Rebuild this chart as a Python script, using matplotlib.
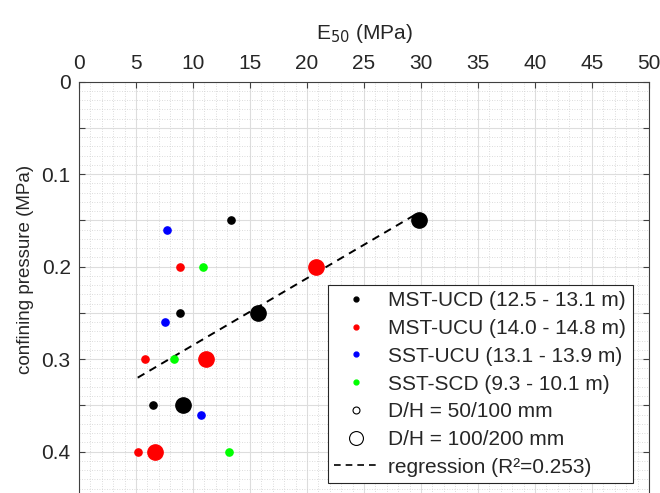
import numpy as np
import matplotlib.pyplot as plt
from matplotlib.lines import Line2D
from matplotlib.ticker import MultipleLocator

plt.rcParams['font.family'] = ['Liberation Sans', 'DejaVu Sans']

# E50 (MPa) vs confining pressure (MPa), small samples (D/H = 50/100 mm)
series_names = ["MST-UCD (12.5 - 13.1 m)", "MST-UCU (14.0 - 14.8 m)",
                "SST-UCU (13.1 - 13.9 m)", "SST-SCD (9.3 - 10.1 m)"]
series_colors = ['black', 'red', 'blue', '#00ff00']

small_e50 = [[13.3, 8.9, 6.45], [8.9, 5.8, 5.15], [7.7, 7.5, 10.7], [10.85, 8.3, 13.15]]
small_p = [[0.15, 0.25, 0.35], [0.20, 0.30, 0.40], [0.16, 0.26, 0.36], [0.20, 0.30, 0.40]]

# large samples (D/H = 100/200 mm)
large_e50 = [[29.85, 15.7, 9.1], [20.75, 11.15, 6.7], [], []]
large_p = [[0.15, 0.25, 0.35], [0.20, 0.30, 0.40], [], []]

# regression line end points
reg_e50 = [5.15, 29.6]
reg_p = [0.32, 0.143]

ytick_vals = np.arange(0, 0.46, 0.05)
ytick_labels = ['0', '', '0.1', '', '0.2', '', '0.3', '', '0.4', '']

txt = '#262626'
fs = 15
fig = plt.figure(figsize=(6.6, 4.93), dpi=100)
ax = fig.add_axes([79/660, 1 - 81.7/493 - 0.938, 570/660, 0.938])

ax.plot(reg_e50, reg_p, '--', color='black', lw=1.4, dashes=(4, 3), zorder=3)
for i in range(len(series_names)):
    ax.plot(small_e50[i], small_p[i], 'o', color=series_colors[i], markersize=5.2,
            linestyle='None', zorder=4)
    if len(large_e50[i]) > 0:
        ax.plot(large_e50[i], large_p[i], 'o', color=series_colors[i], markersize=11,
                linestyle='None', zorder=4)

ax.set_xlim(0, 50)
ax.set_ylim(0.5, 0)
ax.xaxis.tick_top()
ax.xaxis.set_label_position('top')
ax.xaxis.set_major_locator(MultipleLocator(5))
ax.xaxis.set_minor_locator(MultipleLocator(1))
ax.yaxis.set_minor_locator(MultipleLocator(0.01))
ax.set_yticks(ytick_vals)
ax.set_yticklabels(ytick_labels)

ax.tick_params(which='major', direction='in', length=4, width=0.8, color='#404040',
               labelsize=fs, labelcolor=txt, top=True, bottom=True, left=True, right=True,
               pad=6)
ax.tick_params(which='minor', length=0)
ax.grid(which='major', color='#dddddd', lw=0.8)
ax.grid(which='minor', color='#d0d0d0', lw=0.6, linestyle=(0, (1, 2)))
ax.set_axisbelow(True)
for s in ax.spines.values():
    s.set_color('#404040')
    s.set_linewidth(0.8)

ax.set_xlabel('E$_{50}$ (MPa)', fontsize=fs, color=txt, labelpad=11)
ax.set_ylabel('confining pressure (MPa)', fontsize=13.5, color=txt)
ax.yaxis.set_label_coords(-0.079, 0.593)

handles = []
for name, c in zip(series_names, series_colors):
    handles.append(Line2D([], [], marker='o', color=c, linestyle='None', markersize=3.5, label=name))
handles.append(Line2D([], [], marker='o', color='black', markerfacecolor='white', linestyle='None',
                      markersize=5, markeredgewidth=0.8, label='D/H = 50/100 mm'))
handles.append(Line2D([], [], marker='o', color='black', markerfacecolor='white', linestyle='None',
                      markersize=10, markeredgewidth=0.8, label='D/H = 100/200 mm'))
handles.append(Line2D([], [], color='black', linestyle='--', dashes=(4, 3), lw=1.2,
                      label='regression (R²=0.253)'))
leg = ax.legend(handles=handles, loc='upper left', bbox_to_anchor=(328/660, 1 - 285/493),
                bbox_transform=fig.transFigure, fontsize=fs, frameon=True, fancybox=False,
                edgecolor='#262626', framealpha=1, borderaxespad=0, handlelength=2.1,
                labelspacing=0.42, handletextpad=0.5, borderpad=0.3)
leg.get_frame().set_linewidth(0.8)
for t in leg.get_texts():
    t.set_color(txt)

plt.savefig('out.png', dpi=100)
plt.close()
